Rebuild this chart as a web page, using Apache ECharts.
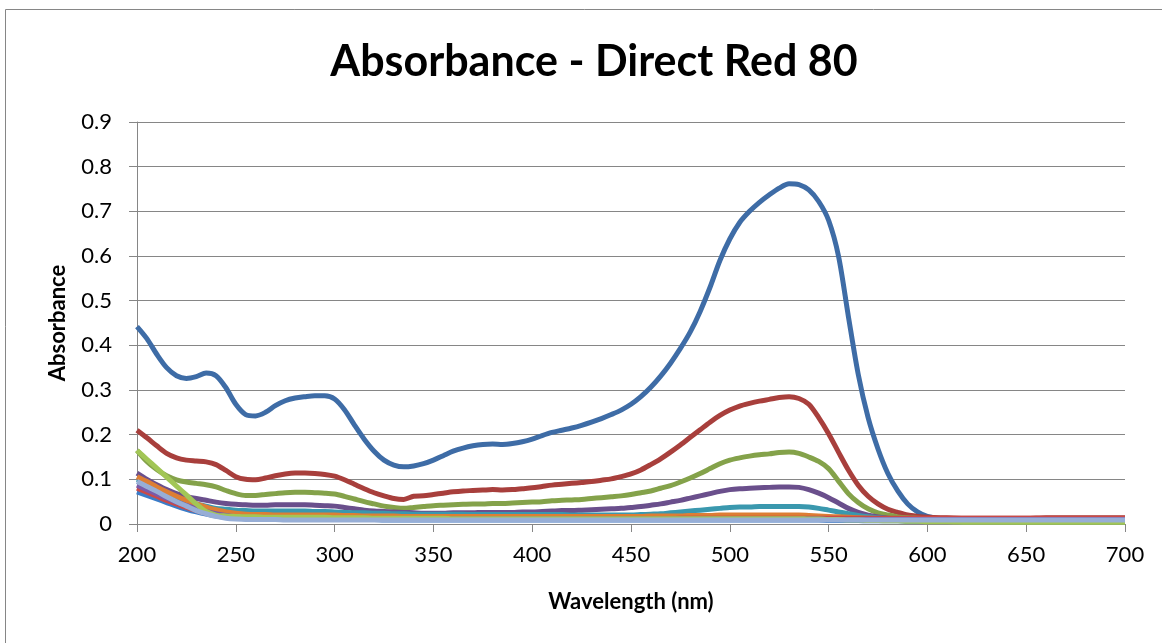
<!DOCTYPE html>
<html>
<head>
<meta charset="utf-8">
<title>Absorbance - Direct Red 80</title>
<script src="https://cdn.jsdelivr.net/npm/echarts@6/dist/echarts.min.js"></script>
<style>
  html, body { margin: 0; padding: 0; background: #fff; }
  #chart { width: 1162px; height: 643px; }
</style>
</head>
<body>
<div id="chart"></div>
<script>
// wavelengths (nm): 5 nm steps to 600, then 10 nm steps
const wavelengths = [
  200, 205, 210, 215, 220, 225, 230, 235, 240, 245,
  250, 255, 260, 265, 270, 275, 280, 285, 290, 295,
  300, 305, 310, 315, 320, 325, 330, 335, 340, 345,
  350, 355, 360, 365, 370, 375, 380, 385, 390, 395,
  400, 405, 410, 415, 420, 425, 430, 435, 440, 445,
  450, 455, 460, 465, 470, 475, 480, 485, 490, 495,
  500, 505, 510, 515, 520, 525, 530, 535, 540, 545,
  550, 555, 560, 565, 570, 575, 580, 585, 590, 595,
  600, 610, 620, 630, 640, 650, 660, 670, 680, 690, 700
];

const blue1 = [
  0.442, 0.415, 0.380, 0.350, 0.332, 0.326, 0.330, 0.338, 0.332, 0.305,
  0.268, 0.245, 0.242, 0.250, 0.265, 0.276, 0.282, 0.285, 0.287, 0.287,
  0.280, 0.256, 0.222, 0.190, 0.163, 0.143, 0.132, 0.128, 0.130, 0.135,
  0.143, 0.153, 0.163, 0.170, 0.175, 0.178, 0.179, 0.178, 0.180, 0.184,
  0.190, 0.198, 0.205, 0.210, 0.215, 0.221, 0.228, 0.236, 0.245, 0.255,
  0.268, 0.285, 0.306, 0.331, 0.360, 0.393, 0.430, 0.476, 0.530, 0.590,
  0.638, 0.675, 0.700, 0.720, 0.737, 0.752, 0.762, 0.760, 0.748, 0.722,
  0.680, 0.600, 0.465, 0.335, 0.238, 0.168, 0.113, 0.074, 0.045, 0.027,
  0.017, 0.010, 0.008, 0.007, 0.007, 0.006, 0.007, 0.006, 0.006, 0.007, 0.007
];

const red1 = [
  0.210, 0.193, 0.175, 0.158, 0.148, 0.143, 0.141, 0.139, 0.133, 0.120,
  0.106, 0.100, 0.099, 0.103, 0.108, 0.112, 0.114, 0.114, 0.113, 0.111,
  0.107, 0.099, 0.089, 0.079, 0.070, 0.063, 0.057, 0.055, 0.062, 0.063,
  0.066, 0.069, 0.072, 0.074, 0.075, 0.076, 0.077, 0.076, 0.077, 0.079,
  0.081, 0.084, 0.087, 0.089, 0.091, 0.093, 0.095, 0.098, 0.101, 0.106,
  0.112, 0.121, 0.133, 0.146, 0.161, 0.177, 0.194, 0.211, 0.228, 0.243,
  0.255, 0.264, 0.270, 0.275, 0.279, 0.283, 0.285, 0.281, 0.268, 0.238,
  0.202, 0.161, 0.121, 0.087, 0.062, 0.045, 0.033, 0.026, 0.020, 0.017,
  0.015, 0.014, 0.013, 0.013, 0.013, 0.013, 0.014, 0.014, 0.014, 0.014, 0.014
];

const green1 = [
  0.165, 0.140, 0.122, 0.108, 0.099, 0.094, 0.091, 0.088, 0.083, 0.075,
  0.068, 0.064, 0.064, 0.066, 0.068, 0.070, 0.071, 0.071, 0.070, 0.069,
  0.067, 0.062, 0.056, 0.050, 0.045, 0.040, 0.037, 0.035, 0.037, 0.039,
  0.041, 0.042, 0.043, 0.044, 0.045, 0.045, 0.046, 0.046, 0.047, 0.048,
  0.049, 0.050, 0.052, 0.053, 0.054, 0.055, 0.057, 0.059, 0.061, 0.063,
  0.066, 0.070, 0.074, 0.080, 0.086, 0.094, 0.103, 0.113, 0.124, 0.135,
  0.143, 0.148, 0.152, 0.155, 0.157, 0.160, 0.161, 0.158, 0.150, 0.140,
  0.124, 0.096, 0.068, 0.048, 0.034, 0.025, 0.020, 0.016, 0.014, 0.013,
  0.012, 0.010, 0.008, 0.006, 0.005, 0.004, 0.004, 0.004, 0.004, 0.004, 0.004
];

const purple1 = [
  0.114, 0.100, 0.088, 0.077, 0.068, 0.062, 0.057, 0.053, 0.049, 0.046,
  0.044, 0.043, 0.042, 0.042, 0.043, 0.043, 0.043, 0.043, 0.042, 0.041,
  0.040, 0.037, 0.034, 0.031, 0.029, 0.028, 0.027, 0.026, 0.025, 0.024,
  0.024, 0.024, 0.025, 0.025, 0.025, 0.026, 0.026, 0.026, 0.026, 0.027,
  0.027, 0.028, 0.029, 0.030, 0.030, 0.031, 0.032, 0.033, 0.034, 0.035,
  0.037, 0.039, 0.042, 0.045, 0.049, 0.053, 0.058, 0.063, 0.068, 0.073,
  0.077, 0.079, 0.080, 0.081, 0.082, 0.083, 0.083, 0.082, 0.077, 0.069,
  0.059, 0.047, 0.035, 0.026, 0.020, 0.016, 0.013, 0.012, 0.011, 0.010,
  0.010, 0.009, 0.009, 0.008, 0.008, 0.008, 0.008, 0.008, 0.008, 0.008, 0.008
];

const teal1 = [
  0.100, 0.090, 0.080, 0.070, 0.060, 0.052, 0.045, 0.040, 0.035, 0.033,
  0.031, 0.030, 0.029, 0.029, 0.029, 0.029, 0.029, 0.029, 0.028, 0.028,
  0.027, 0.026, 0.025, 0.025, 0.024, 0.024, 0.023, 0.023, 0.022, 0.022,
  0.022, 0.022, 0.022, 0.022, 0.021, 0.021, 0.021, 0.021, 0.021, 0.021,
  0.021, 0.021, 0.021, 0.021, 0.020, 0.020, 0.020, 0.020, 0.020, 0.020,
  0.020, 0.021, 0.022, 0.023, 0.025, 0.027, 0.029, 0.031, 0.033, 0.035,
  0.037, 0.038, 0.038, 0.039, 0.039, 0.039, 0.039, 0.039, 0.038, 0.035,
  0.031, 0.027, 0.023, 0.019, 0.016, 0.014, 0.012, 0.011, 0.010, 0.010,
  0.009, 0.009, 0.009, 0.009, 0.009, 0.009, 0.009, 0.009, 0.009, 0.009, 0.009
];

const orange1 = [
  0.106, 0.095, 0.083, 0.072, 0.062, 0.053, 0.045, 0.038, 0.032, 0.027,
  0.024, 0.022, 0.021, 0.021, 0.020, 0.020, 0.020, 0.020, 0.020, 0.020,
  0.020, 0.019, 0.019, 0.018, 0.018, 0.018, 0.018, 0.017, 0.017, 0.017,
  0.017, 0.017, 0.017, 0.017, 0.017, 0.017, 0.017, 0.017, 0.017, 0.017,
  0.017, 0.017, 0.017, 0.017, 0.017, 0.017, 0.017, 0.017, 0.017, 0.017,
  0.017, 0.017, 0.018, 0.018, 0.018, 0.018, 0.019, 0.019, 0.019, 0.020,
  0.020, 0.020, 0.020, 0.020, 0.020, 0.020, 0.020, 0.020, 0.019, 0.018,
  0.017, 0.016, 0.015, 0.014, 0.013, 0.012, 0.012, 0.012, 0.011, 0.011,
  0.011, 0.011, 0.011, 0.011, 0.011, 0.011, 0.011, 0.011, 0.011, 0.011, 0.011
];

const blue2 = [
  0.072, 0.064, 0.056, 0.048, 0.040, 0.033, 0.027, 0.022, 0.018, 0.015,
  0.013, 0.012, 0.012, 0.011, 0.011, 0.011, 0.011, 0.011, 0.011, 0.011,
  0.010, 0.010, 0.010, 0.010, 0.010, 0.009, 0.009, 0.009, 0.009, 0.009,
  0.009, 0.009, 0.009, 0.009, 0.009, 0.009, 0.009, 0.009, 0.009, 0.009,
  0.009, 0.009, 0.009, 0.009, 0.009, 0.009, 0.009, 0.009, 0.009, 0.009,
  0.009, 0.009, 0.009, 0.009, 0.009, 0.009, 0.009, 0.009, 0.009, 0.009,
  0.009, 0.009, 0.009, 0.009, 0.009, 0.009, 0.009, 0.009, 0.009, 0.009,
  0.008, 0.008, 0.008, 0.008, 0.007, 0.007, 0.007, 0.007, 0.006, 0.006,
  0.006, 0.006, 0.005, 0.005, 0.005, 0.005, 0.005, 0.005, 0.005, 0.005, 0.005
];

const red2 = [
  0.080, 0.071, 0.062, 0.053, 0.045, 0.037, 0.030, 0.024, 0.019, 0.016,
  0.014, 0.013, 0.013, 0.013, 0.013, 0.013, 0.013, 0.013, 0.013, 0.013,
  0.012, 0.012, 0.012, 0.012, 0.012, 0.012, 0.012, 0.012, 0.012, 0.012,
  0.012, 0.012, 0.012, 0.012, 0.012, 0.012, 0.012, 0.012, 0.012, 0.012,
  0.012, 0.012, 0.012, 0.012, 0.012, 0.012, 0.012, 0.012, 0.012, 0.012,
  0.012, 0.012, 0.012, 0.012, 0.012, 0.013, 0.013, 0.013, 0.013, 0.013,
  0.013, 0.013, 0.013, 0.013, 0.013, 0.013, 0.013, 0.013, 0.013, 0.013,
  0.013, 0.013, 0.013, 0.013, 0.013, 0.013, 0.013, 0.013, 0.013, 0.013,
  0.013, 0.013, 0.013, 0.013, 0.013, 0.013, 0.013, 0.013, 0.013, 0.013, 0.013
];

const purple2 = [
  0.087, 0.077, 0.067, 0.058, 0.049, 0.041, 0.034, 0.028, 0.023, 0.019,
  0.016, 0.014, 0.013, 0.013, 0.012, 0.012, 0.012, 0.012, 0.012, 0.012,
  0.012, 0.011, 0.011, 0.011, 0.011, 0.011, 0.011, 0.011, 0.011, 0.011,
  0.011, 0.011, 0.011, 0.011, 0.011, 0.011, 0.011, 0.011, 0.011, 0.011,
  0.011, 0.011, 0.011, 0.011, 0.011, 0.011, 0.011, 0.011, 0.011, 0.011,
  0.011, 0.011, 0.011, 0.011, 0.011, 0.011, 0.011, 0.011, 0.011, 0.011,
  0.011, 0.011, 0.011, 0.011, 0.011, 0.011, 0.011, 0.011, 0.011, 0.011,
  0.010, 0.010, 0.010, 0.010, 0.010, 0.010, 0.010, 0.010, 0.010, 0.010,
  0.010, 0.010, 0.010, 0.010, 0.010, 0.010, 0.010, 0.010, 0.010, 0.010, 0.010
];

const green2 = [
  0.165, 0.145, 0.125, 0.105, 0.085, 0.065, 0.045, 0.028, 0.020, 0.018,
  0.017, 0.016, 0.016, 0.015, 0.015, 0.015, 0.015, 0.015, 0.015, 0.015,
  0.014, 0.014, 0.014, 0.014, 0.013, 0.013, 0.013, 0.013, 0.013, 0.013,
  0.013, 0.013, 0.012, 0.012, 0.012, 0.012, 0.012, 0.012, 0.012, 0.012,
  0.012, 0.012, 0.012, 0.012, 0.012, 0.012, 0.012, 0.012, 0.012, 0.012,
  0.012, 0.012, 0.012, 0.012, 0.012, 0.012, 0.012, 0.012, 0.012, 0.012,
  0.012, 0.012, 0.012, 0.012, 0.012, 0.012, 0.012, 0.012, 0.011, 0.011,
  0.010, 0.010, 0.009, 0.009, 0.008, 0.008, 0.007, 0.007, 0.006, 0.006,
  0.005, 0.005, 0.004, 0.004, 0.004, 0.004, 0.004, 0.004, 0.004, 0.004, 0.004
];

const lavender = [
  0.095, 0.084, 0.073, 0.061, 0.050, 0.040, 0.030, 0.023, 0.017, 0.013,
  0.011, 0.010, 0.010, 0.010, 0.010, 0.009, 0.009, 0.009, 0.009, 0.009,
  0.009, 0.009, 0.009, 0.009, 0.009, 0.009, 0.009, 0.009, 0.009, 0.009,
  0.009, 0.009, 0.009, 0.009, 0.009, 0.009, 0.009, 0.009, 0.009, 0.009,
  0.009, 0.009, 0.009, 0.009, 0.009, 0.009, 0.009, 0.009, 0.009, 0.009,
  0.009, 0.009, 0.009, 0.009, 0.009, 0.009, 0.009, 0.009, 0.009, 0.009,
  0.009, 0.009, 0.009, 0.009, 0.009, 0.009, 0.009, 0.009, 0.009, 0.009,
  0.009, 0.009, 0.009, 0.009, 0.009, 0.009, 0.009, 0.009, 0.009, 0.009,
  0.009, 0.009, 0.009, 0.009, 0.009, 0.009, 0.009, 0.009, 0.009, 0.009, 0.009
];

// draw order: later entries sit on top
const seriesList = [
  { name: "S1", values: blue1, color: "#3E6CA6" },
  { name: "S2", values: red1, color: "#A83F3C" },
  { name: "S3", values: green1, color: "#84A24A" },
  { name: "S4", values: purple1, color: "#6A4F8C" },
  { name: "S5", values: teal1, color: "#3A98AE" },
  { name: "S6", values: orange1, color: "#DD7E34" },
  { name: "S7", values: blue2, color: "#3A7CC8" },
  { name: "S8", values: red2, color: "#C94A48" },
  { name: "S9", values: purple2, color: "#7A5AA8" },
  { name: "S10", values: green2, color: "#A2C656" },
  { name: "S11", values: lavender, color: "#97AED6" }
];

const font = "Lato, 'Open Sans', sans-serif";
const gray = "#868686";

const chart = echarts.init(document.getElementById("chart"));

chart.setOption({
  animation: false,
  backgroundColor: "#fff",
  title: {
    text: "Absorbance - Direct Red 80",
    left: 589,
    top: 36,
    textAlign: "center",
    textStyle: { fontFamily: font, fontWeight: "bold", fontSize: 43, color: "#000" }
  },
  graphic: [
    {
      type: "rect",
      silent: true,
      shape: { x: 5.5, y: 9.5, width: 1200, height: 700 },
      style: { fill: "none", stroke: gray, lineWidth: 1 }
    }
  ],
  grid: { left: 137, right: 37, top: 122, bottom: 119 },
  xAxis: {
    type: "value",
    min: 200,
    max: 700,
    interval: 50,
    name: "Wavelength (nm)",
    nameLocation: "middle",
    nameGap: 67,
    nameTextStyle: { fontFamily: font, fontWeight: "bold", fontSize: 22, color: "#000" },
    axisLine: { show: true, onZero: false, lineStyle: { color: gray, width: 1 } },
    axisTick: { show: true, length: 8, lineStyle: { color: gray } },
    axisLabel: { fontFamily: font, fontSize: 22, color: "#000", margin: 20 },
    splitLine: { show: false }
  },
  yAxis: {
    type: "value",
    min: 0,
    max: 0.9,
    interval: 0.1,
    name: "Absorbance",
    nameLocation: "middle",
    nameRotate: 90,
    nameGap: 68,
    nameTextStyle: { fontFamily: font, fontWeight: "bold", fontSize: 22, color: "#000" },
    axisLine: { show: true, lineStyle: { color: gray, width: 1 } },
    axisTick: { show: true, length: 8, lineStyle: { color: gray } },
    axisLabel: {
      fontFamily: font,
      fontSize: 22,
      color: "#000",
      margin: 25,
      formatter: v => String(+v.toFixed(1))
    },
    splitLine: { show: true, lineStyle: { color: gray, width: 1 } }
  },
  series: seriesList.map(s => ({
    type: "line",
    name: s.name,
    data: wavelengths.map((w, i) => [w, s.values[i]]),
    showSymbol: false,
    smooth: 0.3,
    clip: true,
    lineStyle: { width: 5, color: s.color },
    itemStyle: { color: s.color }
  }))
});
</script>
</body>
</html>
